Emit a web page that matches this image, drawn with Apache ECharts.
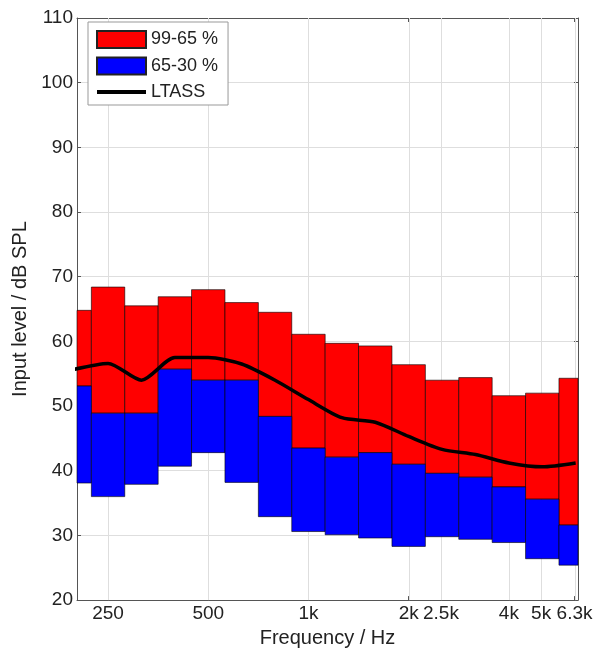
<!DOCTYPE html>
<html>
<head>
<meta charset="utf-8">
<title>Input level per third-octave band</title>
<script src="https://cdn.jsdelivr.net/npm/echarts@6/dist/echarts.min.js"></script>
<style>
    html, body { margin: 0; padding: 0; background: #fff; }
    #chart { width: 597px; height: 653px; }
</style>
</head>
<body>
<div id="chart"></div>
<script>
// third-octave band centres (Hz)
var bands = [200, 250, 315, 400, 500, 630, 800, 1000, 1250, 1600, 2000, 2500, 3150, 4000, 5000, 6300];
// percentiles of input level, dB SPL
var p99 = [64.8, 68.4, 65.5, 66.9, 68.0, 66.0, 64.5, 61.1, 59.7, 59.3, 56.4, 54.0, 54.4, 51.6, 52.0, 54.3];
var p65 = [53.1, 48.9, 48.9, 55.7, 54.0, 54.0, 48.4, 43.5, 42.1, 42.8, 41.0, 39.6, 39.0, 37.5, 35.6, 31.6];
var p30 = [38.1, 36.0, 37.9, 40.7, 42.8, 38.2, 32.9, 30.6, 30.1, 29.6, 28.3, 29.8, 29.4, 28.9, 26.4, 25.4];
// long term average speech spectrum
var ltass = [55.7, 56.6, 54.0, 57.5, 57.5, 56.5, 54.0, 51.0, 48.2, 47.5, 45.3, 43.3, 42.5, 41.2, 40.6, 41.2];

var tickFreqs = [250, 500, 1000, 2000, 2500, 4000, 5000, 6300];
var tickLabels = ['250', '500', '1k', '2k', '2.5k', '4k', '5k', '6.3k'];

var FONT = 'Liberation Sans, Arial, sans-serif';
var TXT = '#222';
var AX = '#555';

// octaves re 1 kHz
function oct(f) { return Math.log2(f / 1000); }
function bandPos(f) { return Math.round(3 * oct(f)) / 3; }

var tickPos = tickFreqs.map(oct);

var redData = [], blueData = [], lineData = [];
for (var i = 0; i < bands.length; i++) {
    redData.push([bandPos(bands[i]), p99[i], p65[i]]);
    blueData.push([bandPos(bands[i]), p65[i], p30[i]]);
    lineData.push([bandPos(bands[i]), ltass[i]]);
}

// bar spanning one third octave, clipped to the plot
function bandItem(params, api) {
    var cs = params.coordSys;
    var x = api.value(0);
    var a = api.coord([x - 1 / 6, api.value(1)]);
    var b = api.coord([x + 1 / 6, api.value(2)]);
    var l = Math.max(a[0], cs.x), r = Math.min(b[0], cs.x + cs.width);
    if (r <= l) return;
    return {
        type: 'rect',
        shape: { x: l, y: a[1], width: r - l, height: b[1] - a[1] },
        style: { fill: api.visual('color'), stroke: 'rgba(0,0,0,0.75)', lineWidth: 0.8 }
    };
}

// vertical grid line at a labelled frequency
function gridItem(params, api) {
    var cs = params.coordSys;
    var x = Math.round(api.coord([api.value(0), 0])[0]) + 0.5;
    return {
        type: 'line',
        shape: { x1: x, y1: cs.y, x2: x, y2: cs.y + cs.height },
        style: { stroke: '#dedede', lineWidth: 1 }
    };
}

function tickLabel(v) {
    for (var k = 0; k < tickPos.length; k++) {
        if (Math.abs(tickPos[k] - v) < 1e-6) return tickLabels[k];
    }
    return '';
}

var xMin = -2.31, xMax = 2.69;

var myChart = echarts.init(document.getElementById('chart'));
var option = {
    animation: false,
    backgroundColor: '#fff',
    textStyle: { fontFamily: FONT },
    grid: { left: 77, right: 19, top: 18, bottom: 50 },
    legend: {
        orient: 'vertical',
        left: 88,
        top: 22,
        padding: [8, 10, 4, 8],
        itemGap: 7.5,
        itemWidth: 49,
        itemHeight: 17,
        backgroundColor: '#fff',
        borderColor: '#999',
        borderWidth: 1,
        textStyle: { fontSize: 18, color: TXT, fontFamily: FONT },
        data: [
            { name: '99-65 %', icon: 'rect' },
            { name: '65-30 %', icon: 'rect' },
            { name: 'LTASS', icon: 'path://M0,0H49V4H0Z' }
        ]
    },
    xAxis: [{
        type: 'value',
        min: xMin,
        max: xMax,
        name: 'Frequency / Hz',
        nameLocation: 'middle',
        nameGap: 25,
        nameTextStyle: { fontSize: 20, color: TXT, fontFamily: FONT },
        axisLine: { onZero: false, lineStyle: { color: AX, width: 1 } },
        axisTick: { inside: true, length: 4, customValues: tickPos, lineStyle: { color: AX } },
        axisLabel: { margin: 4, fontSize: 19, color: TXT, fontFamily: FONT, customValues: tickPos, formatter: tickLabel },
        splitLine: { show: false }
    }, {
        type: 'value',
        position: 'top',
        min: xMin,
        max: xMax,
        axisLine: { onZero: false, lineStyle: { color: AX, width: 1 } },
        axisTick: { inside: true, length: 4, customValues: tickPos, lineStyle: { color: AX } },
        axisLabel: { show: false },
        splitLine: { show: false }
    }],
    yAxis: [{
        type: 'value',
        position: 'left',
        min: 20,
        max: 110,
        interval: 10,
        name: 'Input level / dB SPL',
        nameLocation: 'middle',
        nameGap: 42,
        nameTextStyle: { fontSize: 20, color: TXT, fontFamily: FONT },
        axisLine: { show: true, onZero: false, lineStyle: { color: AX, width: 1 } },
        axisTick: { show: true, inside: true, length: 4, lineStyle: { color: AX } },
        axisLabel: { margin: 4, fontSize: 19, color: TXT, fontFamily: FONT },
        splitLine: { show: true, lineStyle: { color: '#dedede', width: 1 } }
    }, {
        type: 'value',
        position: 'right',
        min: 20,
        max: 110,
        interval: 10,
        axisLine: { show: true, onZero: false, lineStyle: { color: AX, width: 1 } },
        axisTick: { show: true, inside: true, length: 4, lineStyle: { color: AX } },
        axisLabel: { show: false },
        splitLine: { show: false }
    }],
    series: [
        {
            type: 'custom',
            renderItem: gridItem,
            encode: { x: 0 },
            data: tickPos.map(function (v) { return [v]; }),
            silent: true,
            z: 1
        },
        {
            name: '99-65 %',
            type: 'custom',
            renderItem: bandItem,
            encode: { x: 0, y: [1, 2] },
            itemStyle: { color: '#ff0000', borderColor: '#222', borderWidth: 0.8 },
            data: redData,
            z: 2
        },
        {
            name: '65-30 %',
            type: 'custom',
            renderItem: bandItem,
            encode: { x: 0, y: [1, 2] },
            itemStyle: { color: '#0000ff', borderColor: '#222', borderWidth: 0.8 },
            data: blueData,
            z: 2
        },
        {
            name: 'LTASS',
            type: 'line',
            smooth: 0.25,
            symbol: 'none',
            color: '#000',
            itemStyle: { color: '#000' },
            lineStyle: { color: '#000', width: 3.5 },
            data: lineData,
            z: 3
        }
    ]
};

myChart.setOption(option);
</script>
</body>
</html>
